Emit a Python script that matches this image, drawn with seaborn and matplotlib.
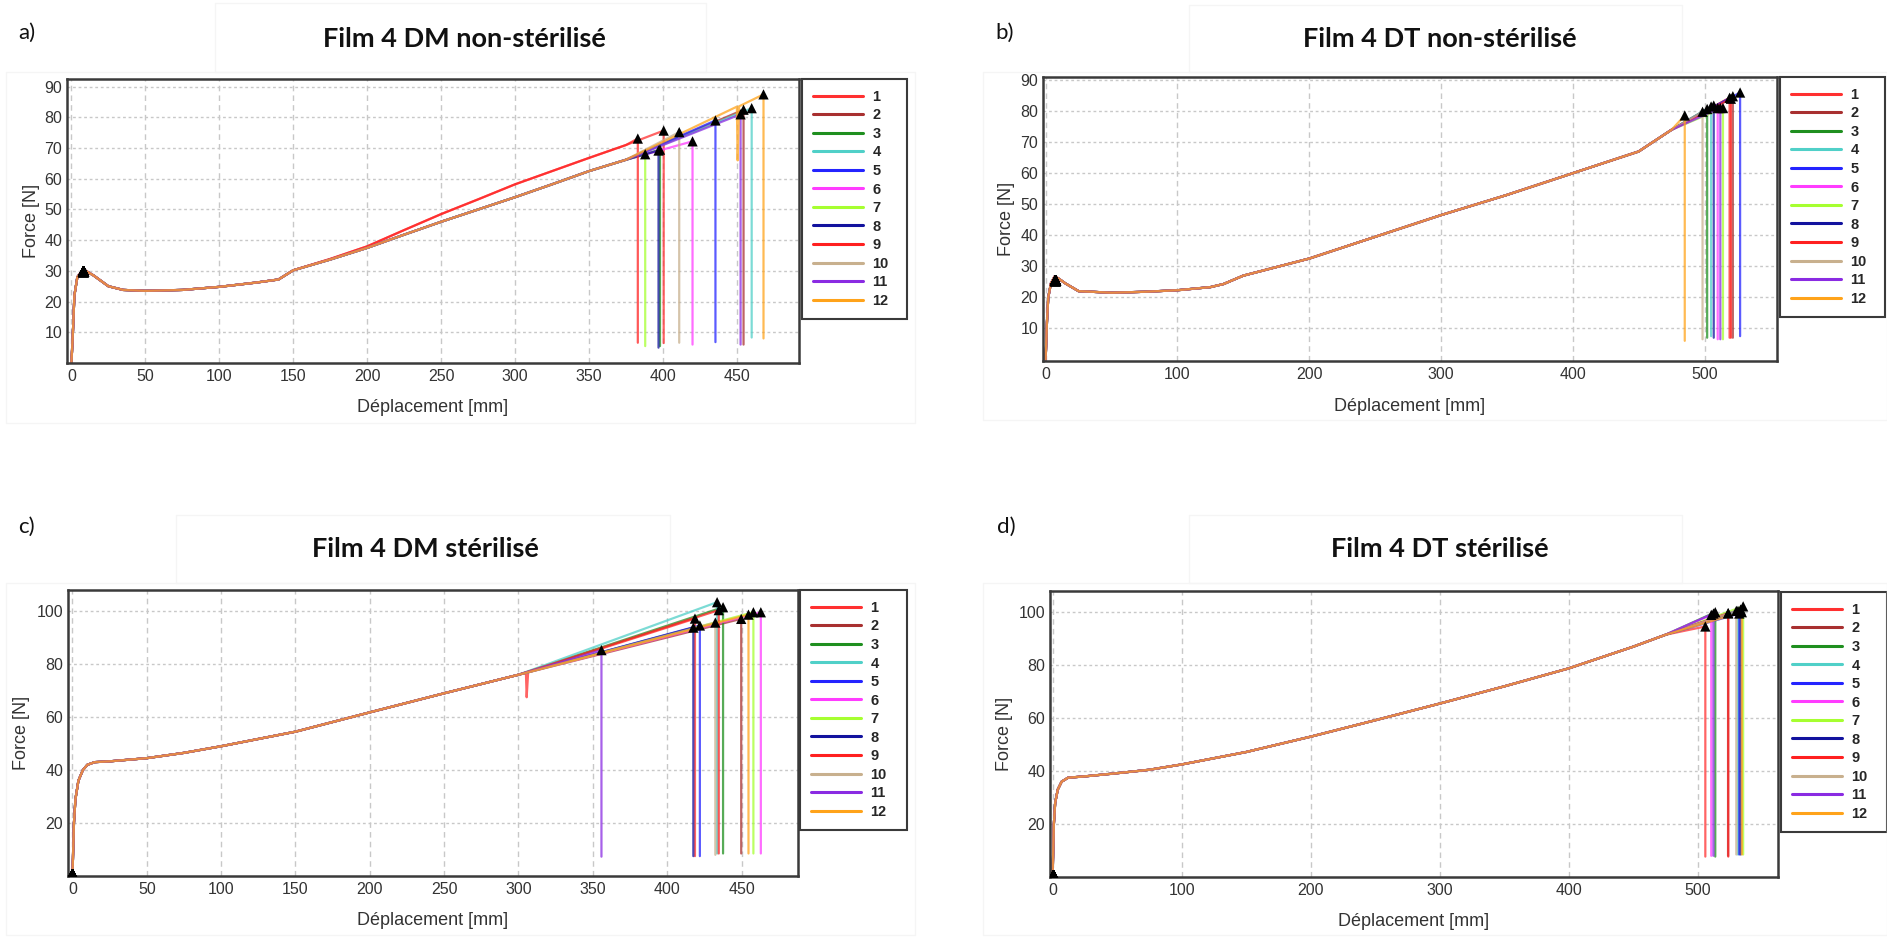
import matplotlib.pyplot as plt
from matplotlib.lines import Line2D
from matplotlib.patches import Rectangle
import pandas as pd
import seaborn as sns

W, H = 1887, 938

SAMPLES = [str(i) for i in range(1, 13)]
COLORS = ['#ff3030', '#a83030', '#1f8f1f', '#50d0c8', '#2424ff', '#ff3cff',
          '#a6ff30', '#12129e', '#ff2020', '#c8b08e', '#8a2be2', '#ffa31a']

# a) Film 4 DM non-stérilisé
A_X = [0, 1, 2, 4, 8, 15, 25, 35, 50, 75, 100, 125, 140, 150, 175, 200,
       225, 250, 275, 300, 325, 350, 375]
A_F_LOW = [0, 10, 22, 28, 30.5, 28.5, 25, 23.8, 23.5, 23.8, 24.8, 26.2, 27.2,
           30.2, 33.7, 37.5, 41.8, 46, 50, 54, 58.2, 62.5, 66.2]
A_F_HIGH = [0, 10, 22, 28, 30.5, 28.5, 25, 23.8, 23.5, 23.8, 24.8, 26.2, 27.2,
            30.2, 33.9, 38, 43.3, 48.5, 53.3, 58.2, 62.5, 66.8, 71]
A_HIGH = ['1', '9']
A_BREAK_X = [400.5, 454.5, 398, 460, 435.5, 420, 388, 397, 383, 411, 452.5, 468]
A_BREAK_F = [75.7, 82.5, 69.5, 83, 79, 72.2, 68, 69.2, 73.1, 75.2, 81, 87.5]
A_DROP_F = [6.5, 6, 5.5, 8.3, 6.8, 6, 5.5, 5, 6.6, 6.6, 6, 8]
A_SPIKE = {'12': [(450, 83.5), (450.5, 66), (451.5, 83.6)]}
A_YIELD = (8, 30)

# b) Film 4 DT non-stérilisé
B_X = [0, 1, 2, 4, 7, 10, 15, 25, 50, 75, 100, 125, 135, 150, 200, 250, 300,
       350, 400, 450, 475]
B_F = [0, 12, 20, 24.5, 26.8, 26, 24.5, 22, 21.5, 21.8, 22.3, 23.3, 24.3, 27,
       32.5, 39.5, 46.5, 53, 60, 67, 74]
B_BREAK_X = [519, 521.5, 502, 505, 527, 510, 514, 507, 520, 498.5, 512, 485]
B_BREAK_F = [84.3, 84.8, 80.7, 81.5, 86, 81, 81, 81.8, 84, 79.8, 81, 78.6]
B_DROP_F = [7, 7, 7, 7.5, 7.5, 6.5, 6.5, 7, 7, 6.5, 6.5, 6]
B_YIELD = (7, 25.5)

# c) Film 4 DM stérilisé
C_X = [0, 1, 2, 4, 7, 10, 15, 25, 50, 75, 100, 150, 200, 250, 300]
C_F = [0, 20, 29, 36, 40, 42, 43, 43.3, 44.5, 46.5, 49, 54.5, 61.8, 69, 76]
C_BREAK_X = [418.7, 449.8, 437.6, 433.6, 422, 463, 458, 417.6, 434.7, 432.4, 355.8, 454.7]
C_BREAK_F = [97.2, 97.1, 101.5, 103.4, 94.6, 99.6, 99.6, 93.8, 100.4, 95.7, 85.3, 98.7]
C_DROP_F = [7.5, 8.5, 8.5, 8.5, 7.5, 8.5, 8.5, 7.5, 8.5, 8, 7.3, 8.5]
C_SPIKE = {'1': [(305, 76.8), (305.5, 67.5), (306.5, 77)]}
C_YIELD = (0, 0.8)

# d) Film 4 DT stérilisé
D_X = [0, 1, 2, 4, 7, 12, 25, 50, 75, 100, 150, 200, 250, 300, 350, 400, 450, 475]
D_F = [0, 20, 28, 33, 36, 37.5, 38, 39.2, 40.5, 42.5, 47.2, 53, 59.2, 65.5,
       72, 78.8, 87, 91.5]
D_BREAK_X = [505.7, 523.3, 513.4, 531, 532, 510.3, 535, 533, 523.5, 529.7, 512, 534]
D_BREAK_F = [94.6, 99.6, 100, 100.5, 99.5, 99, 102.2, 101, 99.6, 100.5, 99.5, 100]
D_DROP_F = [7.7, 8, 7.7, 8.5, 8.5, 8, 8.5, 8.5, 7.7, 8.5, 8, 8.5]
D_YIELD = (0, 0.8)


def curves(base_x, base_f, break_x, break_f, drop_f, high=(), high_f=None, spikes=None):
    rows = []
    for i, s in enumerate(SAMPLES):
        fs = high_f if s in high else base_f
        pts = list(zip(base_x, fs))
        pts += (spikes or {}).get(s, [])
        pts += [(break_x[i], break_f[i]), (break_x[i], drop_f[i])]
        for k, (x, f) in enumerate(pts):
            rows.append({'sample': s, 'k': k, 'x': x, 'f': f})
    return pd.DataFrame(rows)


def frac(x0, y0, x1, y1):
    return [x0 / W, 1 - y1 / H, (x1 - x0) / W, (y1 - y0) / H]


panels = [
    dict(df=curves(A_X, A_F_LOW, A_BREAK_X, A_BREAK_F, A_DROP_F, A_HIGH, A_F_HIGH, A_SPIKE),
         bx=A_BREAK_X, bf=A_BREAK_F, yld=A_YIELD, rect=(67, 79, 799, 363),
         leg=(802, 79, 907), title='Film 4 DM non-stérilisé', txy=(464, 47),
         tag='a)', gxy=(18, 39), xt=range(0, 451, 50), xl=(-3, 492),
         yt=range(10, 91, 10), yl=(0, 92.5), ylx=-0.037, xly=-0.125,
         boxes=[(215, 3, 706, 72), (6, 72, 915, 423)]),
    dict(df=curves(B_X, B_F, B_BREAK_X, B_BREAK_F, B_DROP_F),
         bx=B_BREAK_X, bf=B_BREAK_F, yld=B_YIELD, rect=(1043, 77, 1777, 361),
         leg=(1780, 77, 1885), title='Film 4 DT non-stérilisé', txy=(1440, 47),
         tag='b)', gxy=(995, 39), xt=range(0, 501, 100), xl=(-2, 555),
         yt=range(10, 91, 10), yl=(-0.5, 91), ylx=-0.038, xly=-0.13,
         boxes=[(1189, 5, 1682, 72), (983, 72, 1887, 420)]),
    dict(df=curves(C_X, C_F, C_BREAK_X, C_BREAK_F, C_DROP_F, spikes=C_SPIKE),
         bx=C_BREAK_X, bf=C_BREAK_F, yld=C_YIELD, rect=(68, 590, 798, 876),
         leg=(800, 590, 907), title='Film 4 DM stérilisé', txy=(425, 557),
         tag='c)', gxy=(18, 533), xt=range(0, 451, 50), xl=(-3, 488),
         yt=range(20, 101, 20), yl=(0, 108), ylx=-0.052, xly=-0.126,
         boxes=[(176, 515, 670, 583), (6, 583, 915, 935)]),
    dict(df=curves(D_X, D_F, D_BREAK_X, D_BREAK_F, D_DROP_F),
         bx=D_BREAK_X, bf=D_BREAK_F, yld=D_YIELD, rect=(1050, 591, 1778, 877),
         leg=(1781, 592, 1887), title='Film 4 DT stérilisé', txy=(1440, 557),
         tag='d)', gxy=(997, 533), xt=range(0, 501, 100), xl=(-2, 562),
         yt=range(20, 101, 20), yl=(0, 108), ylx=-0.051, xly=-0.126,
         boxes=[(1189, 515, 1682, 583), (983, 583, 1887, 935)]),
]

sns.set_theme(style='white')
plt.rcParams['font.family'] = ['Liberation Sans', 'DejaVu Sans']

fig = plt.figure(figsize=(W / 100, H / 100), dpi=100)
fig.patch.set_facecolor('white')
palette = dict(zip(SAMPLES, COLORS))

for p in panels:
    # very faint frames left over from the pasted screenshots
    for (x0, y0, x1, y1) in p['boxes']:
        fig.patches.append(Rectangle((x0 / W, 1 - y1 / H), (x1 - x0) / W, (y1 - y0) / H,
                                     transform=fig.transFigure, fill=False,
                                     ec='#f5f5f5', lw=1, zorder=0))

    ax = fig.add_axes(frac(*p['rect']))
    sns.lineplot(data=p['df'], x='x', y='f', hue='sample', palette=palette,
                 estimator=None, sort=False, lw=1.6, alpha=0.75, legend=False, ax=ax)
    ax.plot([p['yld'][0]] * 12, [p['yld'][1]] * 12, ls='none', marker='^',
            color='black', ms=7, zorder=5)
    sns.scatterplot(x=p['bx'], y=p['bf'], marker='^', color='black', s=55,
                    edgecolor='none', zorder=6, ax=ax)

    ax.set_xlim(*p['xl'])
    ax.set_ylim(*p['yl'])
    ax.set_xticks(list(p['xt']))
    ax.set_yticks(list(p['yt']))
    ax.xaxis.grid(True, color='#c8c8c8', ls=(0, (4, 3)), lw=1)
    ax.yaxis.grid(True, color='#c8c8c8', ls=(0, (2, 2)), lw=1)
    ax.tick_params(length=0, labelsize=11.5, labelcolor='#333333')
    ax.tick_params(axis='x', pad=4)
    ax.tick_params(axis='y', pad=3.5)
    for sp in ax.spines.values():
        sp.set_color('#3a3a3a')
        sp.set_linewidth(1.8)
    ax.set_xlabel('Déplacement [mm]', fontsize=13, color='#333333')
    ax.set_ylabel('Force [N]', fontsize=13, color='#333333')
    ax.xaxis.set_label_coords(0.5, p['xly'])
    ax.yaxis.set_label_coords(p['ylx'], 0.5)

    handles = [Line2D([], [], color=c, lw=2.2) for c in COLORS]
    lx0, ly0, lx1 = p['leg']
    leg = ax.legend(handles, SAMPLES, loc='upper left',
                    bbox_to_anchor=(lx0 / W, 1 - ly0 / H, (lx1 - lx0) / W, 0),
                    bbox_transform=fig.transFigure, mode='expand', borderaxespad=0,
                    prop={'weight': 'bold', 'size': 10.5}, handlelength=3.45,
                    handletextpad=0.64, labelspacing=0.31, borderpad=0.75,
                    fancybox=False, framealpha=1, edgecolor='#3a3a3a')
    leg.get_frame().set_linewidth(1.5)

    fig.text(p['txy'][0] / W, 1 - p['txy'][1] / H, p['title'], ha='center', va='baseline',
             fontsize=19.5, fontweight='bold', family=['Lato', 'DejaVu Sans'], color='#111111')
    fig.text(p['gxy'][0] / W, 1 - p['gxy'][1] / H, p['tag'], ha='left', va='baseline',
             fontsize=16, family=['Lato', 'DejaVu Sans'], color='#111111')

fig.savefig('out.png', dpi=100, facecolor='white')
